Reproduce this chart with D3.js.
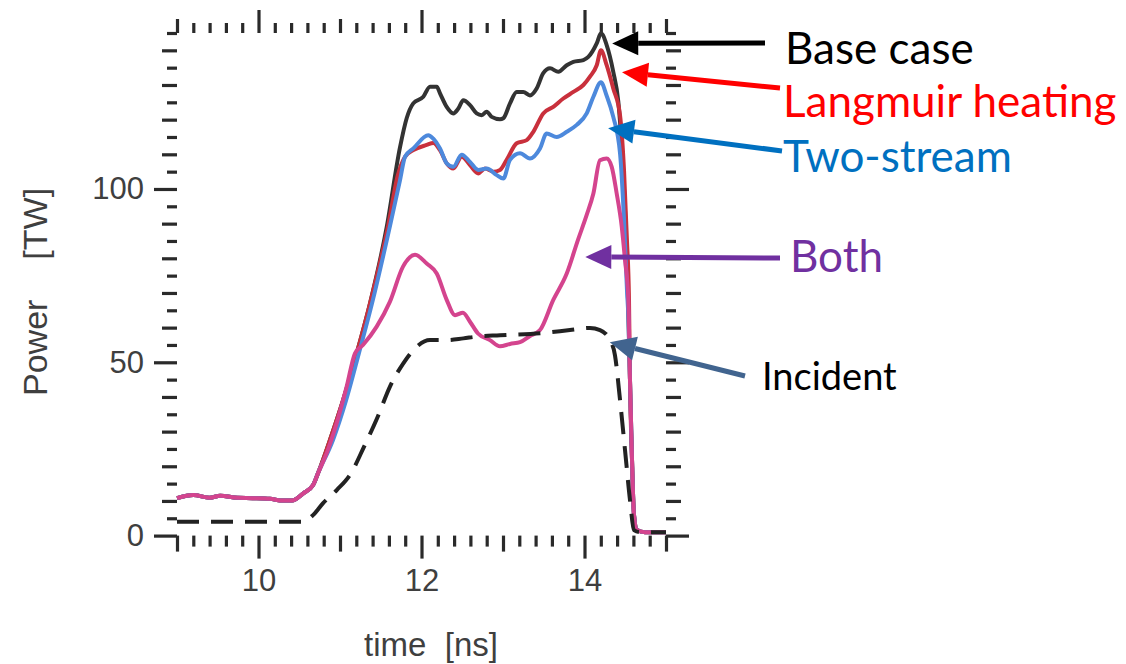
<!DOCTYPE html>
<html>
<head>
<meta charset="utf-8">
<script src="https://cdn.jsdelivr.net/npm/d3@7"></script>
<style>
  body { margin: 0; background: #fff; }
  svg { display: block; }
  .tick line { stroke: #2a2a2a; stroke-width: 3.2; }
  .tick text { fill: #3f3f3f; font-family: "Liberation Sans", Arial, sans-serif; font-size: 31px; }
  .title { fill: #3f3f3f; font-family: "Liberation Sans", Arial, sans-serif; font-size: 33px; white-space: pre; }
  .note { font-family: Lato, "Open Sans", sans-serif; }
</style>
</head>
<body>
<script>
// ---- data (time in ns, power in TW) ----
// flat foot shared by all four simulated curves
const lowT = [9.0, 9.2, 9.4, 9.53, 9.74, 9.93, 10.14, 10.3, 10.41, 10.55, 10.67, 10.73];
const lowP = [10.8, 11.7, 10.9, 11.5, 10.9, 10.8, 10.6, 10.1, 10.1, 12.2, 14.6, 18];

// steep fall at the end, shared too
const fallT = [14.558, 14.583, 14.607, 14.644, 14.742, 15.0];
const fallP = [45, 21.8, 6, 1.6, 1.0, 1.0];

const baseT = [10.877, 11.037, 11.205, 11.368, 11.573, 11.736, 11.818, 11.899, 12.022, 12.104, 12.187, 12.227, 12.309, 12.39, 12.452, 12.513, 12.595, 12.677, 12.739, 12.8, 12.861, 12.963, 13.004, 13.086, 13.168, 13.249, 13.331, 13.413, 13.494, 13.577, 13.679, 13.782, 13.863, 13.986, 14.047, 14.15, 14.202, 14.272, 14.353, 14.415, 14.46, 14.497, 14.534];
const baseP = [27.6, 39, 52.6, 67, 89, 112, 120.4, 124.7, 126.6, 129.5, 129.5, 127.6, 123.7, 121.8, 123.2, 125.6, 124.2, 121.8, 121.3, 122.3, 120.8, 120.1, 120.4, 124.7, 128, 128, 127, 129, 133.4, 134.8, 133.8, 135.7, 136.7, 137.2, 138.1, 142, 144.9, 141.5, 133.8, 125.2, 111, 93.9, 68];

const langT = [10.877, 11.037, 11.205, 11.368, 11.59, 11.71, 11.798, 11.9, 12.063, 12.145, 12.227, 12.309, 12.39, 12.493, 12.595, 12.697, 12.779, 12.881, 12.963, 13.045, 13.168, 13.291, 13.372, 13.494, 13.617, 13.74, 13.863, 13.986, 14.067, 14.15, 14.202, 14.272, 14.353, 14.436, 14.485, 14.521, 14.546];
const langP = [27.6, 39, 52.6, 67, 89.3, 104, 109.3, 111.2, 112.7, 113.3, 111.2, 107.4, 105.9, 109.3, 106.9, 104.5, 105.9, 105, 105.5, 108.4, 113.2, 114.1, 116.5, 121.8, 123.7, 126.1, 128, 130, 132.4, 135.7, 140, 135.7, 129, 121.3, 105.4, 85.2, 68];

const twoT = [10.914, 11.074, 11.233, 11.393, 11.613, 11.736, 11.798, 11.9, 12.083, 12.145, 12.227, 12.309, 12.39, 12.493, 12.595, 12.697, 12.8, 12.923, 13.004, 13.086, 13.209, 13.331, 13.454, 13.536, 13.659, 13.782, 13.905, 14.027, 14.109, 14.202, 14.272, 14.353, 14.436, 14.485, 14.521, 14.54];
const twoP = [27.6, 39, 52.7, 67, 89.3, 102.5, 109.3, 111.7, 115.5, 114.5, 111.7, 107.4, 106.4, 109.9, 107.8, 105.5, 105.9, 104, 103, 108.4, 110.3, 108.8, 111.7, 116, 115, 116.5, 118.5, 121.8, 126.6, 130.8, 126.9, 120.8, 110.3, 91, 70.9, 62];

const bothT = [10.837, 10.96, 11.082, 11.184, 11.282, 11.45, 11.613, 11.773, 11.92, 12.064, 12.187, 12.309, 12.411, 12.509, 12.595, 12.693, 12.84, 12.963, 13.086, 13.209, 13.331, 13.454, 13.617, 13.782, 13.92, 14.027, 14.109, 14.19, 14.272, 14.334, 14.395, 14.457, 14.497, 14.538];
const bothP = [23.8, 32.5, 43, 52.6, 55, 60.3, 67.5, 77.6, 81, 78.5, 75.6, 68, 63.6, 64.3, 61.7, 58.3, 56.4, 54.6, 55.3, 55.8, 57.6, 59.3, 68, 75.6, 85.3, 92.5, 98.7, 108.3, 108.8, 106.4, 98.7, 89.1, 79.5, 68];

const incT = [9.0, 10.546, 10.669, 10.79, 10.963, 11.135, 11.294, 11.463, 11.613, 11.777, 11.941, 12.104, 12.309, 12.513, 12.677, 12.963, 13.454, 13.822, 14.067, 14.19, 14.313, 14.374, 14.436, 14.497, 14.558, 14.607, 14.681, 15.0];
const incP = [4.0, 4.0, 5.9, 9.3, 13.2, 18, 25.6, 34.3, 43, 49.7, 54.5, 56.4, 56.4, 56.9, 57.4, 57.8, 58.4, 59.3, 59.9, 59.3, 56.4, 52, 39.1, 24.7, 10.3, 1.6, 1.0, 1.0];

const xTickLabels = [10, 12, 14];
const yTickLabels = [0, 50, 100];

// ---- drawing ----
const W = 1126, H = 664;
const svg = d3.select("body").append("svg").attr("width", W).attr("height", H);

const x = d3.scaleLinear().domain([9, 15]).range([177, 666]);
const y = d3.scaleLinear().domain([0, 145]).range([535.6, 33]);

// tick sets: 0.2 ns / 1 ns / 2 ns and 5 / 10 / 50 TW
const xAll = d3.range(45, 76).map(i => i / 5);
const xMinor = xAll.filter(v => Math.abs(v - Math.round(v)) > 1e-6);
const xMid = d3.range(9, 16).filter(v => !xTickLabels.includes(v));
const yAll = d3.range(0, 146, 5);
const yMinor = yAll.filter(v => v % 10 !== 0);
const yMid = yAll.filter(v => v % 10 === 0 && v % 50 !== 0);

function ticks(axisFn, pos, transform, values, size, labels) {
  const ax = axisFn(pos).tickValues(values).tickSize(size);
  if (labels) ax.tickPadding(10).tickFormat(d3.format("d"));
  else ax.tickFormat("");
  const g = svg.append("g").attr("transform", transform).call(ax);
  g.select(".domain").remove();
  return g;
}

// bottom / top
ticks(d3.axisBottom, x, `translate(0,${y(0)})`, xMinor, 11);
ticks(d3.axisBottom, x, `translate(0,${y(0)})`, xMid, 16);
ticks(d3.axisBottom, x, `translate(0,${y(0)})`, xTickLabels, 23, true);
ticks(d3.axisTop, x, `translate(0,${y(145)})`, xMinor, 10);
ticks(d3.axisTop, x, `translate(0,${y(145)})`, xMid, 14);
ticks(d3.axisTop, x, `translate(0,${y(145)})`, xTickLabels, 23);
// left / right
ticks(d3.axisLeft, y, `translate(${x(9)},0)`, yMinor, 10);
ticks(d3.axisLeft, y, `translate(${x(9)},0)`, yMid, 15);
ticks(d3.axisLeft, y, `translate(${x(9)},0)`, yTickLabels, 23, true);
ticks(d3.axisRight, y, `translate(${x(15)},0)`, yMinor, 10);
ticks(d3.axisRight, y, `translate(${x(15)},0)`, yMid, 15);
ticks(d3.axisRight, y, `translate(${x(15)},0)`, yTickLabels, 23);

// axis titles
svg.append("text").attr("class", "title")
  .attr("x", 431).attr("y", 656).attr("text-anchor", "middle")
  .text("time  [ns]");
const yTitle = svg.append("text").attr("class", "title")
  .attr("transform", "translate(47,396) rotate(-90)")
  .attr("text-anchor", "start")
  .style("font-size", "34px");
yTitle.append("tspan").text("Power");
yTitle.append("tspan").attr("dx", 40).text("[TW]");

// curves
const line = d3.line().x(d => x(d[0])).y(d => y(d[1])).curve(d3.curveMonotoneX);
const zipSeries = (ts, ps) => ts.map((t, i) => [t, ps[i]]);
const full = (ts, ps) => zipSeries(lowT, lowP).concat(zipSeries(ts, ps), zipSeries(fallT, fallP));

const series = [
  { pts: full(baseT, baseP), color: "#333333" },
  { pts: full(langT, langP), color: "#c9303c" },
  { pts: full(twoT, twoP), color: "#4d89dc" },
  { pts: full(bothT, bothP), color: "#d4448e" }
];

svg.selectAll(".curve").data(series).enter().append("path")
  .attr("class", "curve")
  .attr("d", d => line(d.pts))
  .attr("fill", "none")
  .attr("stroke", d => d.color)
  .attr("stroke-width", 4)
  .attr("stroke-linejoin", "round");

svg.append("path")
  .attr("d", line(zipSeries(incT, incP)))
  .attr("fill", "none")
  .attr("stroke", "#222")
  .attr("stroke-width", 4)
  .attr("stroke-dasharray", "22 12");

// annotation arrows: tip in data units, tail and label in pixels
const notes = [
  { text: "Base case", color: "#000000", arrow: "#000000", tip: [14.34, 142], tail: [765, 43], label: [785, 64], size: 44 },
  { text: "Langmuir heating", color: "#ff0000", arrow: "#ff0000", tip: [14.46, 133.7], tail: [780, 88], label: [783, 117], size: 44 },
  { text: "Two-stream", color: "#0070c0", arrow: "#0070c0", tip: [14.29, 117.5], tail: [782, 151], label: [783, 172], size: 44 },
  { text: "Both", color: "#7030a0", arrow: "#7030a0", tip: [14.01, 80.4], tail: [780, 258], label: [790, 272], size: 44 },
  { text: "Incident", color: "#000000", arrow: "#41648f", tip: [14.31, 55.8], tail: [745, 376], label: [762, 390], size: 38 }
];

notes.forEach(n => {
  const tx = x(n.tip[0]), ty = y(n.tip[1]);
  const [sx, sy] = n.tail;
  const a = Math.atan2(ty - sy, tx - sx);
  const headL = 26, headW = 12;
  const bx = tx - headL * Math.cos(a), by = ty - headL * Math.sin(a);
  svg.append("line")
    .attr("x1", sx).attr("y1", sy).attr("x2", bx).attr("y2", by)
    .attr("stroke", n.arrow).attr("stroke-width", 5);
  svg.append("polygon")
    .attr("points", [
      [tx, ty],
      [bx + headW * Math.sin(a), by - headW * Math.cos(a)],
      [bx - headW * Math.sin(a), by + headW * Math.cos(a)]
    ].map(p => p.join(",")).join(" "))
    .attr("fill", n.arrow);
  svg.append("text").attr("class", "note")
    .attr("x", n.label[0]).attr("y", n.label[1])
    .attr("font-size", n.size)
    .attr("fill", n.color)
    .text(n.text);
});
</script>
</body>
</html>
